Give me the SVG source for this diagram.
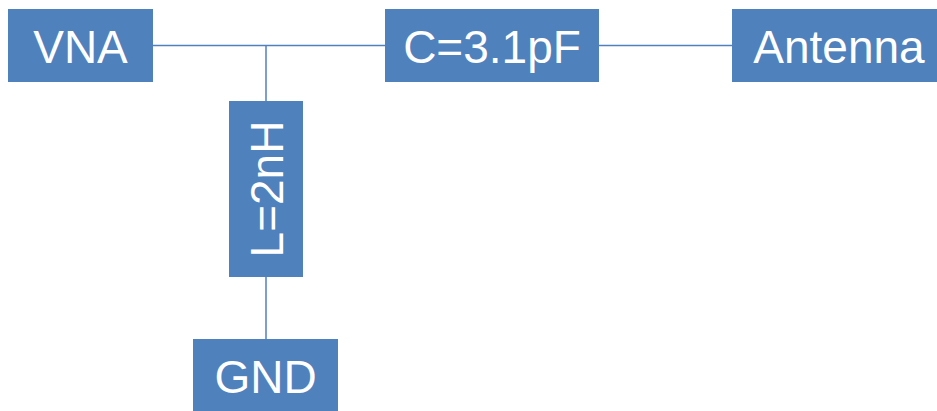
<svg xmlns="http://www.w3.org/2000/svg" width="937" height="411" viewBox="0 0 937 411">
  <style>
    .box { fill: #4F81BD; }
    .lbl { fill: #FFFFFF; font-family: "Liberation Sans", Arial, sans-serif; font-size: 46px; text-anchor: middle; }
    .wire { stroke: #4F81BD; stroke-width: 1.5; fill: none; }
  </style>
  <rect width="937" height="411" fill="#FFFFFF"/>
  <g id="connectors">
    <line class="wire" x1="153" y1="45.5" x2="385" y2="45.5"/>
    <line class="wire" x1="599" y1="45.5" x2="732" y2="45.5"/>
    <line class="wire" x1="266" y1="45.5" x2="266" y2="101"/>
    <line class="wire" x1="266" y1="277" x2="266" y2="339"/>
  </g>
  <g id="vna">
    <rect class="box" x="8" y="9" width="145" height="73"/>
    <text class="lbl" x="80.5" y="62.5">VNA</text>
  </g>
  <g id="capacitor">
    <rect class="box" x="385" y="9" width="214" height="73"/>
    <text class="lbl" x="492" y="62.5">C=3.1pF</text>
  </g>
  <g id="antenna">
    <rect class="box" x="732" y="9" width="214" height="73"/>
    <text class="lbl" x="839" y="62.5">Antenna</text>
  </g>
  <g id="inductor">
    <rect class="box" x="229" y="101" width="74" height="176"/>
    <text class="lbl" transform="translate(282.5 189) rotate(-90)" x="0" y="0">L=2nH</text>
  </g>
  <g id="gnd">
    <rect class="box" x="193" y="339" width="145" height="73"/>
    <text class="lbl" x="265.5" y="392.5">GND</text>
  </g>
</svg>
